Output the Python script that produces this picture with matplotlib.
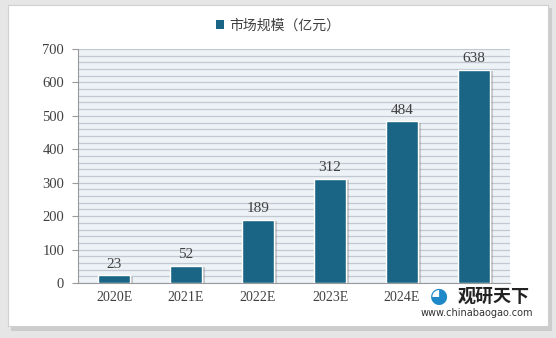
import matplotlib.pyplot as plt
import matplotlib.patheffects as pe
from matplotlib.patches import Rectangle

anos = ['2020E', '2021E', '2022E', '2023E', '2024E', '2025E']
valores = [23, 52, 189, 312, 484, 638]

plt.rcParams['font.family'] = ['Liberation Serif', 'Noto Sans CJK SC']

fig = plt.figure(figsize=(5.56, 3.38), dpi=100)
fig.patch.set_facecolor('#e6e6e6')

# tarjeta blanca con sombra
sombra = Rectangle((0.02, 0.02), 0.972, 0.955, transform=fig.transFigure,
                   facecolor='#cccccc', edgecolor='none', zorder=-10)
fig.patches.append(sombra)
tarjeta = Rectangle((0.014, 0.035), 0.972, 0.95, transform=fig.transFigure,
                    facecolor='white', edgecolor='#d0d0d0', lw=0.8, zorder=-9)
fig.patches.append(tarjeta)

ax = fig.add_axes([0.1403, 0.1627, 0.777, 0.6923])
ax.set_facecolor('#edf2f7')
x = list(range(len(anos)))
barras = ax.bar(x, valores, width=0.44, color='#1a6585', edgecolor='white', linewidth=1.0,
                zorder=3, label='市场规模（亿元）')
for b in barras:
    b.set_path_effects([pe.SimplePatchShadow(offset=(2, -1), shadow_rgbFace='#777777', alpha=0.35), pe.Normal()])

for xi, v in zip(x, valores):
    ax.text(xi, v + 14, str(v), ha='center', va='bottom', fontsize=11, color='#404040', zorder=4)

ax.set_xlim(-0.5, 5.5)
ax.set_ylim(0, 700)
ax.set_yticks(range(0, 701, 100))
ax.set_yticks(range(0, 701, 20), minor=True)
ax.yaxis.grid(True, which='both', color='#c3c9d0', lw=0.9, zorder=0)
ax.set_axisbelow(True)
ax.tick_params(axis='y', which='minor', length=0)
ax.tick_params(axis='y', which='major', length=4, color='#999999', labelsize=10.5, labelcolor='#404040', pad=6)
ax.set_xticks(x)
ax.set_xticklabels(anos)
ax.tick_params(axis='x', length=0, labelsize=10, labelcolor='#404040', pad=6)
for s in ['top', 'right']:
    ax.spines[s].set_visible(False)
ax.spines['left'].set_color('#999999')
ax.spines['bottom'].set_color('#999999')

leg = fig.legend(loc='center', bbox_to_anchor=(0.5, 0.925), frameon=False,
                 handlelength=0.6, handleheight=0.6, handletextpad=0.4,
                 prop={'family': 'Noto Sans CJK SC', 'size': 10})
for t in leg.get_texts():
    t.set_color('#404040')
for h in leg.legend_handles:
    h.set_path_effects([])
    h.set_edgecolor('none')

# marca de agua
fig.text(0.823, 0.125, '观研天下', fontsize=13, fontweight='bold', color='#222222',
         family='Noto Sans CJK SC', ha='left', va='center', zorder=10,
         bbox=dict(facecolor='white', edgecolor='none', pad=0.5, alpha=0.85))
fig.text(0.757, 0.073, 'www.chinabaogao.com', fontsize=7, color='#333333',
         family='DejaVu Sans', ha='left', va='center', zorder=10)
fig.text(0.79, 0.125, '◕', fontsize=15, color='#1e88c8', ha='center', va='center',
         family='DejaVu Sans', zorder=10,
         bbox=dict(facecolor='white', edgecolor='none', pad=1, alpha=0.9))

fig.savefig('out.png', dpi=100, facecolor=fig.get_facecolor())
